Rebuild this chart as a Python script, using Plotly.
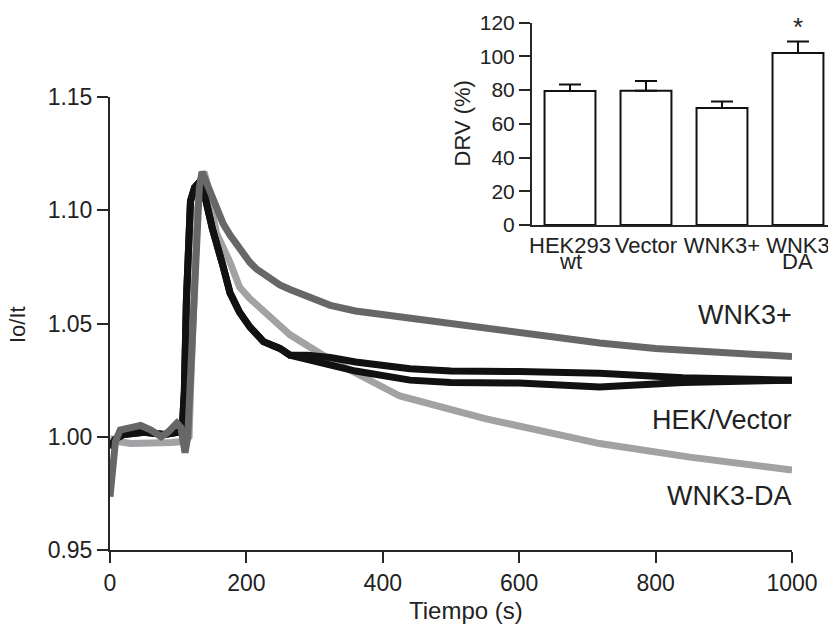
import plotly.graph_objects as go

# ---------------- main traces (time in s, Io/It) ----------------
wnk3_t = [0, 3, 8, 15, 30, 45, 60, 75, 85, 98, 104, 110, 114, 120, 126, 131, 135, 142, 156, 166, 176,
          190, 205, 215, 249, 264, 323, 360, 425, 500, 600, 718, 800, 900, 1000]
wnk3_v = [0.9735, 0.985, 0.998, 1.003, 1.004, 1.005, 1.003, 1.000, 1.002, 1.006, 1.004, 0.993, 1.000,
          1.040, 1.085, 1.110, 1.117, 1.112, 1.102, 1.094, 1.089, 1.083, 1.077, 1.074, 1.067, 1.065,
          1.058, 1.0555, 1.053, 1.050, 1.0455, 1.0414, 1.039, 1.037, 1.0354]

da_t = [0, 10, 30, 60, 90, 110, 116, 118, 121, 124, 128, 133, 138, 143, 156, 176, 190, 205, 249, 264,
        323, 425, 550, 718, 850, 1000]
da_v = [0.9994, 0.998, 0.997, 0.997, 0.9975, 0.998, 1.000, 1.020, 1.050, 1.080, 1.100, 1.112, 1.117,
        1.111, 1.090, 1.077, 1.066, 1.061, 1.0485, 1.045, 1.034, 1.018, 1.008, 0.997, 0.991, 0.9853]

hek_t = [0, 8, 20, 50, 80, 100, 106, 109, 112, 115, 118, 124, 130, 137, 150, 166, 176, 190, 205, 225,
         249, 264, 290, 323, 360, 440, 500, 600, 718, 840, 1000]
hek_v = [0.995, 0.999, 1.001, 1.002, 1.001, 1.002, 1.004, 1.020, 1.060, 1.090, 1.104, 1.110, 1.112,
         1.109, 1.092, 1.075, 1.0635, 1.055, 1.0485, 1.042, 1.039, 1.036, 1.036, 1.035, 1.033, 1.030,
         1.029, 1.0288, 1.028, 1.026, 1.025]

vec_t = [0, 8, 20, 50, 80, 100, 106, 109, 112, 115, 118, 124, 130, 137, 150, 166, 176, 190, 205, 225,
         249, 264, 290, 323, 360, 440, 500, 600, 718, 840, 1000]
vec_v = [0.995, 0.999, 1.001, 1.002, 1.001, 1.002, 1.004, 1.020, 1.060, 1.090, 1.104, 1.110, 1.112,
         1.109, 1.092, 1.075, 1.0635, 1.055, 1.0485, 1.042, 1.039, 1.036, 1.034, 1.032, 1.029, 1.025,
         1.024, 1.0237, 1.022, 1.024, 1.025]

x_ticks = [0, 200, 400, 600, 800, 1000]
y_ticks = [0.95, 1.00, 1.05, 1.10, 1.15]
y_ticktext = ["0.95", "1.00", "1.05", "1.10", "1.15"]

# ---------------- inset bar chart ----------------
bar_labels = ["HEK293", "Vector", "WNK3+", "WNK3"]
bar_sublabels = ["wt", "", "", "DA"]
bar_values = [79.5, 79.7, 69.4, 102.0]
bar_errors = [3.9, 5.7, 3.8, 6.9]
inset_y_ticks = [0, 20, 40, 60, 80, 100, 120]

FONT = "Liberation Sans, Arial, sans-serif"
TXT = "#222222"
AX = "#262626"
LW = 7

fig = go.Figure()

fig.add_trace(go.Scatter(x=da_t, y=da_v, mode="lines", name="WNK3-DA",
                         line=dict(color="#a2a2a5", width=LW), xaxis="x", yaxis="y"))
fig.add_trace(go.Scatter(x=hek_t, y=hek_v, mode="lines", name="HEK293 wt",
                         line=dict(color="#111111", width=LW), xaxis="x", yaxis="y"))
fig.add_trace(go.Scatter(x=vec_t, y=vec_v, mode="lines", name="Vector",
                         line=dict(color="#111111", width=LW), xaxis="x", yaxis="y"))
fig.add_trace(go.Scatter(x=wnk3_t, y=wnk3_v, mode="lines", name="WNK3+",
                         line=dict(color="#676767", width=LW), xaxis="x", yaxis="y"))

fig.add_trace(go.Bar(x=[0, 1, 2, 3], y=bar_values, width=0.67,
                     marker=dict(color="white", line=dict(color="#111111", width=2)),
                     error_y=dict(type="data", symmetric=False, array=bar_errors,
                                  arrayminus=[0, 0, 0, 0], color="#111111", thickness=2, width=11),
                     xaxis="x2", yaxis="y2", showlegend=False))

# plot area: x 110..828 (718 px), y 20..550 (530 px)
W, H = 718.0, 530.0

def px(xp):
    return (xp - 110) / W

def py(yp):
    return (550 - yp) / H

fig.update_layout(
    width=828, height=624,
    margin=dict(l=110, r=0, t=20, b=74, autoexpand=False),
    paper_bgcolor="white", plot_bgcolor="white",
    showlegend=False,
    font=dict(family=FONT, color=TXT),
    xaxis=dict(domain=[0, 682 / W], range=[0, 1000], tickvals=x_ticks,
               showline=True, linecolor=AX, linewidth=2, ticks="outside", ticklen=11,
               tickwidth=2, tickcolor=AX, tickfont=dict(size=23, color=TXT),
               showgrid=False, zeroline=False, anchor="y", automargin=False),
    yaxis=dict(domain=[0, py(97)], range=[0.95, 1.15], tickvals=y_ticks, ticktext=y_ticktext,
               showline=True, linecolor=AX, linewidth=2, ticks="outside", ticklen=11,
               tickwidth=2, tickcolor=AX, tickfont=dict(size=23, color=TXT),
               showgrid=False, zeroline=False, anchor="x", automargin=False),
    xaxis2=dict(domain=[px(532), 1.0], range=[-0.5, 3.395], tickvals=[0, 1, 2, 3],
                ticktext=bar_labels, tickangle=0, ticklabeloverflow="allow",
                showline=True, linecolor=AX, linewidth=2,
                ticks="", tickfont=dict(size=22, color=TXT), showgrid=False, zeroline=False,
                anchor="y2", automargin=False),
    yaxis2=dict(domain=[py(225), py(22.7)], range=[0, 120], tickvals=inset_y_ticks,
                showline=True, linecolor=AX, linewidth=2, ticks="outside", ticklen=11,
                tickwidth=2, tickcolor=AX, tickfont=dict(size=21, color=TXT),
                showgrid=False, zeroline=False, anchor="x2", automargin=False),
)

ann = []
# axis titles
ann.append(dict(text="Tiempo (s)", x=px(466), y=py(610), xref="paper", yref="paper",
                showarrow=False, font=dict(size=24, color=TXT), xanchor="center", yanchor="middle"))
ann.append(dict(text="Io/It", x=px(17), y=py(325), xref="paper", yref="paper", textangle=-90,
                showarrow=False, font=dict(size=22, color=TXT), xanchor="center", yanchor="middle"))
ann.append(dict(text="DRV (%)", x=px(462), y=py(123.5), xref="paper", yref="paper", textangle=-90,
                showarrow=False, font=dict(size=22, color=TXT), xanchor="center", yanchor="middle"))
# curve labels
for name, yv in [("WNK3+", 315), ("HEK/Vector", 420), ("WNK3-DA", 496)]:
    ann.append(dict(text=name, x=px(794), y=py(yv), xref="paper", yref="paper", showarrow=False,
                    font=dict(size=27, color=TXT), xanchor="right", yanchor="middle"))
# inset second-line labels and significance star
for i, s in enumerate(bar_sublabels):
    if s:
        ann.append(dict(text=s, x=i, y=py(261), xref="x2", yref="paper", showarrow=False,
                        font=dict(size=22, color=TXT), xanchor="center", yanchor="middle"))
ann.append(dict(text="*", x=3, y=py(27), xref="x2", yref="paper",
                showarrow=False, font=dict(size=26, color=TXT), xanchor="center", yanchor="middle"))
fig.update_layout(annotations=ann)

fig.write_html("out.html", config={"displayModeBar": False},
               post_script="document.body.style.margin='0';document.body.style.overflow='hidden';")
